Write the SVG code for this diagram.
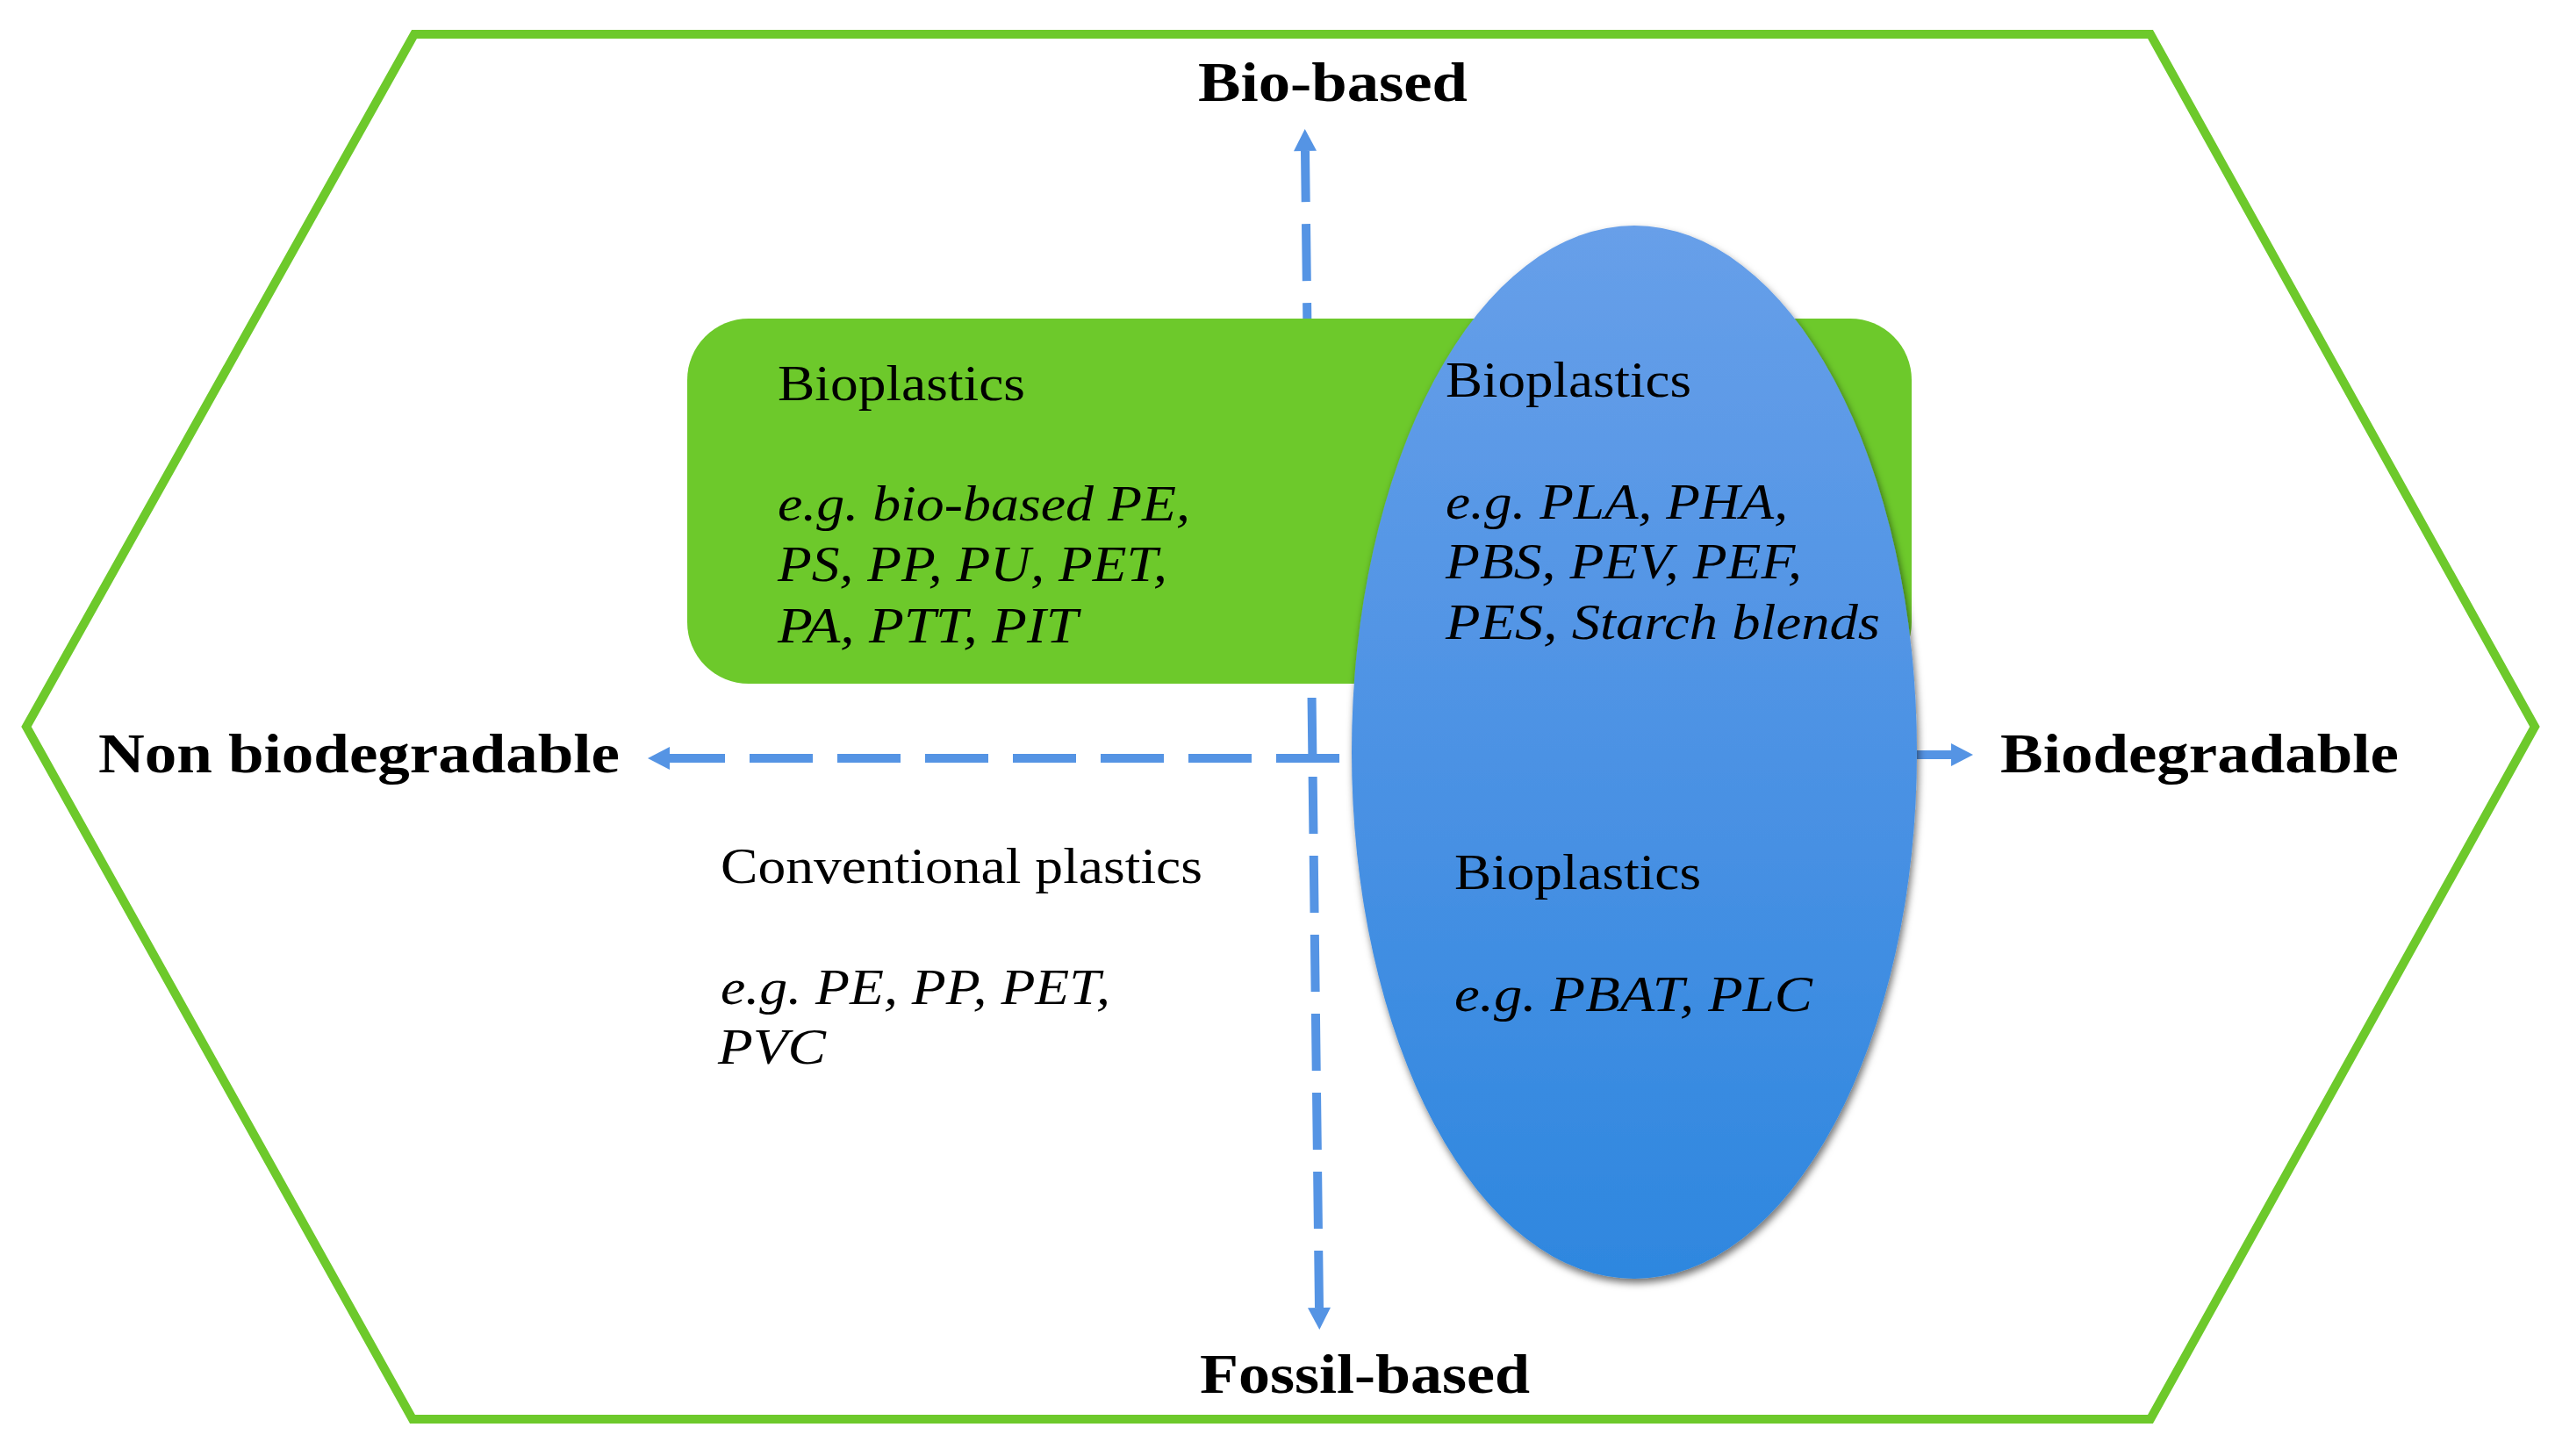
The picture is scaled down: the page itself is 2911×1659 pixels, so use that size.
<svg xmlns="http://www.w3.org/2000/svg" width="2911" height="1659" viewBox="0 0 2911 1659">
  <style>
    .hex { fill: none; stroke: #6DC92B; stroke-width: 10; stroke-linejoin: miter; }
    .conn { fill: none; stroke: #5594E4; stroke-width: 10; }
    .axis { font-family: "Liberation Serif", "Times New Roman", serif; font-weight: bold; font-size: 64px; fill: #000; }
    .t { font-family: "Liberation Serif", "Times New Roman", serif; font-size: 56px; fill: #000; }
    .it { font-family: "Liberation Serif", "Times New Roman", serif; font-size: 56px; font-style: italic; fill: #000; }
  </style>
  <defs>
    <marker id="ah" markerUnits="userSpaceOnUse" viewBox="0 -14 26 28" markerWidth="26" markerHeight="28" refX="0" refY="0" orient="auto-start-reverse" overflow="visible">
      <path d="M0,-13 L25,0 L0,13 Z" fill="#5594E4"/>
    </marker>
    <linearGradient id="blueGrad" x1="0" y1="0" x2="0" y2="1">
      <stop offset="0" stop-color="#679FE9"/>
      <stop offset="0.5" stop-color="#4C92E4"/>
      <stop offset="1" stop-color="#2E87DF"/>
    </linearGradient>
    <filter id="shadow" x="-10%" y="-10%" width="120%" height="120%">
      <feDropShadow dx="2" dy="5" stdDeviation="4" flood-color="#000" flood-opacity="0.55"/>
    </filter>
  </defs>

  <rect x="0" y="0" width="2911" height="1659" fill="#fff"/>

  <g id="hexagon">
    <polygon class="hex" points="472,39 2450,39 2888,828 2450,1617 470,1617 30,828"/>
  </g>

  <g id="connectors">
    <path class="conn" d="M1503,1490 L1487,172" stroke-dasharray="65 25" marker-start="url(#ah)" marker-end="url(#ah)"/>
    <path class="conn" d="M1526,864 L763,864" stroke-dasharray="72 28" marker-end="url(#ah)"/>
    <path class="conn" d="M2184,860 L2223,860" stroke-width="8" marker-end="url(#ah)"/>
  </g>

  <g id="bio-based-nonbiodegradable">
    <rect x="783" y="363" width="1395" height="416" rx="70" ry="70" fill="#6DC92B"/>
    <text class="t" x="886" y="456" textLength="282" lengthAdjust="spacingAndGlyphs">Bioplastics</text>
    <text class="it" x="886" y="593" textLength="470" lengthAdjust="spacingAndGlyphs">e.g. bio-based PE,</text>
    <text class="it" x="886" y="662" textLength="444" lengthAdjust="spacingAndGlyphs">PS, PP, PU, PET,</text>
    <text class="it" x="886" y="732" textLength="342" lengthAdjust="spacingAndGlyphs">PA, PTT, PIT</text>
  </g>

  <g id="biodegradable-ellipse">
    <ellipse cx="1862" cy="857" rx="322" ry="600" fill="url(#blueGrad)" filter="url(#shadow)"/>
    <text class="t" x="1647" y="452" textLength="280" lengthAdjust="spacingAndGlyphs">Bioplastics</text>
    <text class="it" x="1647" y="591" textLength="390" lengthAdjust="spacingAndGlyphs">e.g. PLA, PHA,</text>
    <text class="it" x="1647" y="659" textLength="406" lengthAdjust="spacingAndGlyphs">PBS, PEV, PEF,</text>
    <text class="it" x="1647" y="728" textLength="495" lengthAdjust="spacingAndGlyphs">PES, Starch blends</text>
    <text class="t" x="1657" y="1013" textLength="281" lengthAdjust="spacingAndGlyphs">Bioplastics</text>
    <text class="it" x="1657" y="1152" textLength="408" lengthAdjust="spacingAndGlyphs">e.g. PBAT, PLC</text>
  </g>

  <g id="conventional">
    <text class="t" x="821" y="1006" textLength="549" lengthAdjust="spacingAndGlyphs">Conventional plastics</text>
    <text class="it" x="821" y="1144" textLength="444" lengthAdjust="spacingAndGlyphs">e.g. PE, PP, PET,</text>
    <text class="it" x="818" y="1212" textLength="123" lengthAdjust="spacingAndGlyphs">PVC</text>
  </g>

  <g id="axis-labels">
    <text id="bio-based" class="axis" x="1365" y="115" textLength="307" lengthAdjust="spacingAndGlyphs">Bio-based</text>
    <text id="fossil-based" class="axis" x="1367" y="1587" textLength="376" lengthAdjust="spacingAndGlyphs">Fossil-based</text>
    <text id="non-biodegradable" class="axis" x="112" y="880" textLength="594" lengthAdjust="spacingAndGlyphs">Non biodegradable</text>
    <text id="biodegradable" class="axis" x="2279" y="880" textLength="454" lengthAdjust="spacingAndGlyphs">Biodegradable</text>
  </g>
</svg>
